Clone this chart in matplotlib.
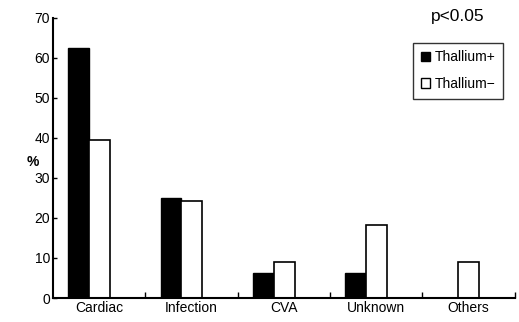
import matplotlib.pyplot as plt
from matplotlib.patches import Patch
import numpy as np

categories = ['Cardiac', 'Infection', 'CVA', 'Unknown', 'Others']
thallium_pos = [62.5, 25.0, 6.3, 6.3, 0.0]
thallium_neg = [39.4, 24.2, 9.1, 18.2, 9.1]

plt.rcParams['font.family'] = ['Liberation Sans', 'DejaVu Sans']

fig = plt.figure(figsize=(5.19, 3.22), dpi=100)
ax = fig.add_axes([0.102, 0.0745, 0.890, 0.870])

x = np.arange(len(categories))
w = 0.225
shift = -0.11  # bars sit a bit left of the label in the original
ax.bar(x + shift - w/2, thallium_pos, w, color='black', edgecolor='black', linewidth=1)
ax.bar(x + shift + w/2, thallium_neg, w, color='white', edgecolor='black', linewidth=1.2)

ax.set_xlim(-0.5, len(categories) - 0.5)
ax.set_ylim(0, 70)
ax.set_yticks(range(0, 71, 10))
ax.set_xticks(x)
ax.set_xticklabels(categories, fontsize=10)
ax.set_xticks(np.arange(0.5, len(categories), 1), minor=True)
ax.tick_params(axis='x', which='major', length=0, pad=2)
ax.tick_params(axis='x', which='minor', direction='in', length=4, width=1)
ax.tick_params(axis='y', direction='in', length=3, width=1, labelsize=10, pad=2)

for s in ['top', 'right']:
    ax.spines[s].set_visible(False)
for s in ['left', 'bottom']:
    ax.spines[s].set_linewidth(1.5)

fig.text(33/519, 1 - 162/322, '%', fontsize=10, fontweight='bold', ha='center', va='center')
fig.text(458/519, 1 - 16/322, 'p<0.05', fontsize=12.5, ha='center', va='center')

handles = [Patch(facecolor='black', edgecolor='black', label='Thallium+'),
           Patch(facecolor='white', edgecolor='black', label='Thallium\u2212')]
leg = ax.legend(handles=handles, loc='upper right', bbox_to_anchor=(0.974, 0.911),
                borderaxespad=0, fontsize=10, frameon=True, fancybox=False,
                edgecolor='black', handlelength=0.65, handleheight=0.65,
                handletextpad=0.3, borderpad=0.55, labelspacing=0.9)
leg.get_frame().set_linewidth(1)

fig.savefig('out.png', dpi=100)
